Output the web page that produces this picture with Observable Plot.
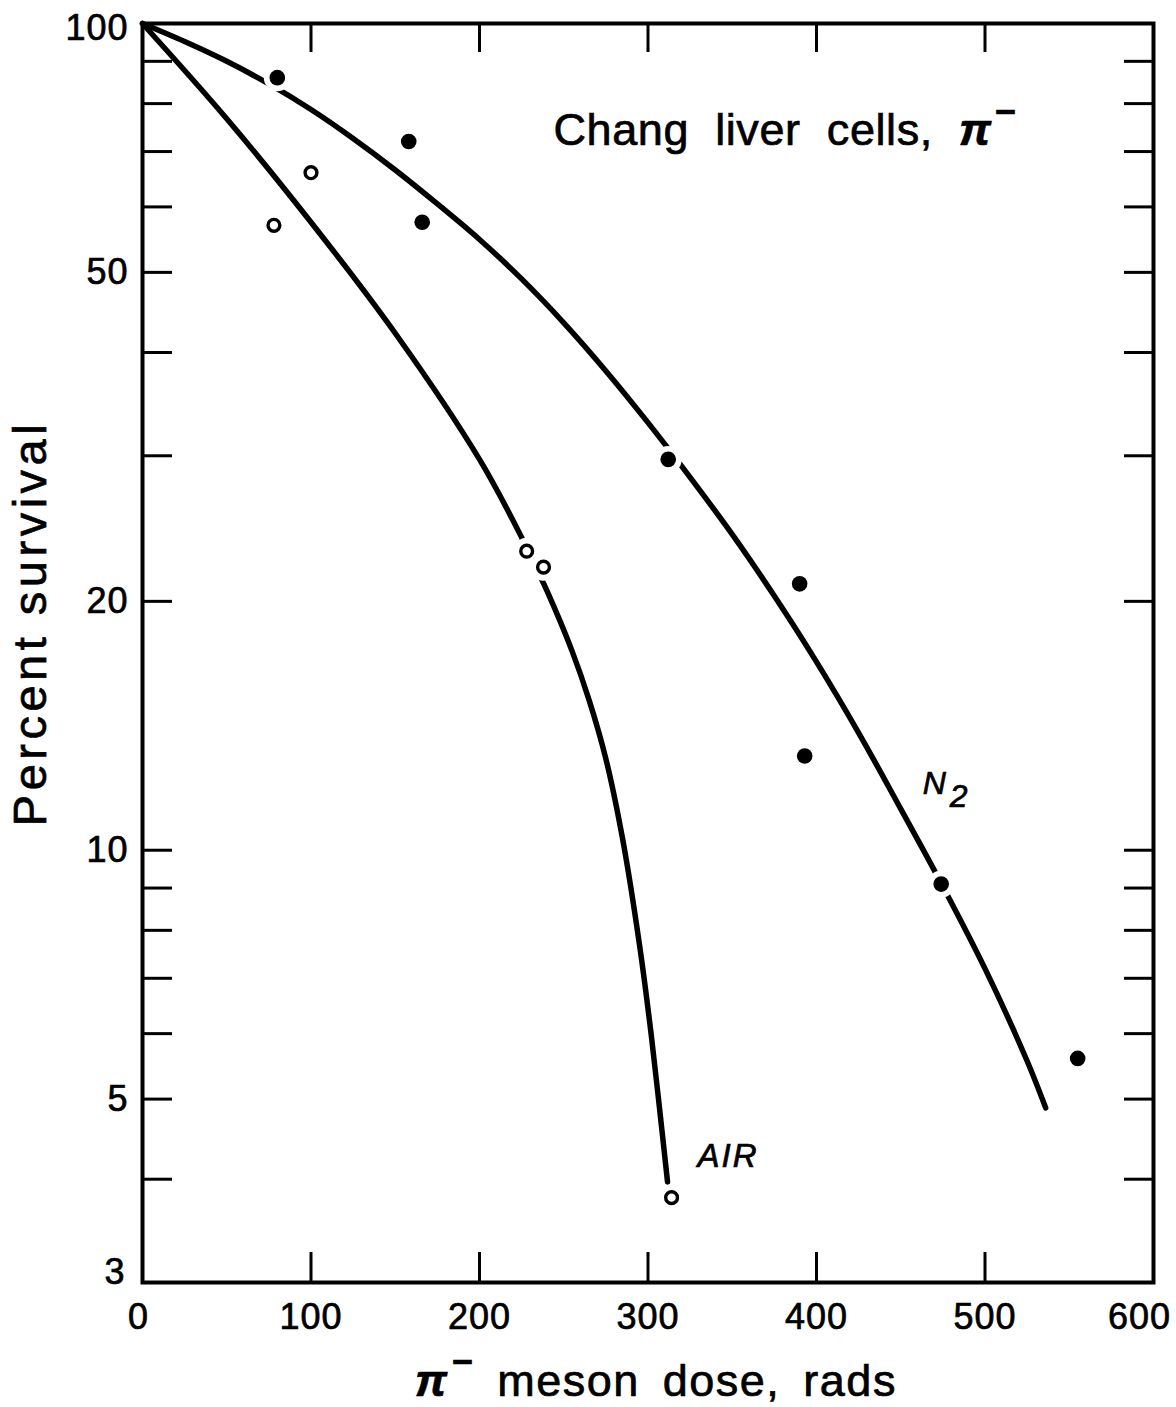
<!DOCTYPE html>
<html>
<head>
<meta charset="utf-8">
<script src="https://cdn.jsdelivr.net/npm/d3@7"></script>
<script src="https://cdn.jsdelivr.net/npm/@observablehq/plot@0.6"></script>
<style>
  html, body { margin: 0; padding: 0; background: #fff; }
  #chart svg { display: block; }
  #chart svg text { stroke: #000; stroke-width: 0.7px; paint-order: stroke; }
</style>
</head>
<body>
<div id="chart"></div>
<script>
// ---- data ----
const xTicks = [0, 100, 200, 300, 400, 500, 600];
const xMidLabels = [100, 200, 300, 400, 500];
const xFirstLabel = [0];
const xLastLabel = [600];
const yLabelTicks = [5, 10, 20, 50];
const yTopLabel = [100];
const yBottomLabel = [3];
const yMinorTicks = [4, 5, 6, 7, 8, 9, 10, 20, 30, 40, 50, 60, 70, 80, 90];

// N2 (filled circles)
const n2Dose = [80, 158, 166, 312, 390, 393, 474, 555];
const n2Survival = [86, 72, 57.5, 29.7, 21, 13, 9.1, 5.6];
// Air (open circles)
const airDose = [78, 100, 228, 238, 314];
const airSurvival = [57, 66, 23, 22, 3.8];

// curves as drawn in the figure
const n2CurveDose = [0, 25, 50, 75, 100, 125, 150, 175, 200, 225, 250, 275, 300, 325, 350, 375, 400, 425, 450, 475, 500, 525, 536];
const n2CurveSurvival = [100, 95.1, 90.0, 84.5, 78.7, 72.6, 66.5, 60.5, 54.8, 49.1, 43.45, 38.0, 32.9, 28.25, 24.1, 20.3, 16.9, 13.87, 11.22, 9.04, 7.19, 5.56, 4.88];
const airCurveDose = [0, 50, 100, 150, 200, 225, 240, 255, 265, 275, 285, 295, 302, 307, 311.6];
const airCurveSurvival = [100, 76.7, 57.5, 42.2, 29.7, 23.9, 20.6, 17.4, 15.2, 12.9, 10.3, 7.67, 5.96, 4.84, 3.97];

const titleText = "Chang liver cells, π⁻";
const xLabel = "π⁻ meson dose, rads";
const yLabel = "Percent survival";
const seriesLabels = [
  {label: "N2", dose: 463, survival: 11.68, size: 32},
  {label: "AIR", dose: 329.4, survival: 4.14, size: 33}
];
const titlePos = {dose: 243.9, survival: 71.2};

// ---- tables ----
const toRows = (xs, ys) => xs.map((x, i) => ({x, y: ys[i]}));
const n2Points = toRows(n2Dose, n2Survival);
const airPoints = toRows(airDose, airSurvival);
const n2Curve = toRows(n2CurveDose, n2CurveSurvival);
const airCurve = toRows(airCurveDose, airCurveSurvival);
const allPoints = n2Points.concat(airPoints);

// ---- layout ----
const W = 1176, H = 1407;
const mL = 142, mR = 23, mT = 23, mB = 125;
const pw = W - mL - mR, ph = H - mT - mB;
const font = "'Liberation Sans', Arial, Helvetica, sans-serif";
const fmt = d => String(d);
const tickFont = 36;
const axX = (ticks, dx) => Plot.axisX({ticks, tickSize: 0, tickPadding: 21, label: null, tickFormat: fmt, fontSize: tickFont, dx, className: "tick-label"});
const axY = (ticks, dy, pad) => Plot.axisY({ticks, tickSize: 0, tickPadding: pad, label: null, tickFormat: fmt, fontSize: tickFont, dy, className: "tick-label"});

const svg = Plot.plot({
  width: W, height: H,
  marginLeft: mL, marginRight: mR, marginTop: mT, marginBottom: mB,
  style: {fontFamily: font, fontSize: "33px", color: "#000", background: "#fff", overflow: "visible"},
  x: {domain: [0, 600]},
  y: {type: "log", domain: [3, 100]},
  marks: [
    // inward ticks
    Plot.tickX(xTicks.slice(1, -1), {x: d => d, insetTop: ph - 30, stroke: "#000", strokeWidth: 3}),
    Plot.tickX(xTicks.slice(1, -1), {x: d => d, insetBottom: ph - 29, stroke: "#000", strokeWidth: 3}),
    Plot.tickY(yMinorTicks, {y: d => d, insetRight: pw - 30, stroke: "#000", strokeWidth: 3}),
    Plot.tickY(yMinorTicks, {y: d => d, insetLeft: pw - 29, stroke: "#000", strokeWidth: 3}),
    // curves
    Plot.line(n2Curve, {x: "x", y: "y", curve: "catmull-rom", stroke: "#000", strokeWidth: 5.5, strokeLinecap: "round"}),
    Plot.line(airCurve, {x: "x", y: "y", curve: "catmull-rom", stroke: "#000", strokeWidth: 5.5, strokeLinecap: "round"}),
    // white halos so the curves break at the points
    Plot.dot(allPoints, {x: "x", y: "y", r: 13.5, fill: "#fff", stroke: "none"}),
    Plot.dot(n2Points, {x: "x", y: "y", r: 7.8, fill: "#000", stroke: "none"}),
    Plot.dot(airPoints, {x: "x", y: "y", r: 5.9, fill: "#fff", stroke: "#000", strokeWidth: 3.4}),
    Plot.frame({stroke: "#000", strokeWidth: 4}),
    // tick labels
    axX(xMidLabels, 0),
    axX(xFirstLabel, -4),
    axX(xLastLabel, -14),
    axY(yLabelTicks, 0, 14),
    axY(yTopLabel, 5, 14),
    axY(yBottomLabel, -10, 17),
    // texts
    Plot.text([titleText], {x: () => titlePos.dose, y: () => titlePos.survival, text: d => d,
      textAnchor: "start", lineAnchor: "bottom", fontSize: 45, className: "pi-text title-text"}),
    Plot.text([xLabel], {frameAnchor: "bottom", text: d => d, dy: 113, dx: 8, textAnchor: "middle",
      lineAnchor: "bottom", fontSize: 45, className: "pi-text xlabel-text"}),
    Plot.text([yLabel], {frameAnchor: "left", text: d => d, rotate: -90, dx: -112, dy: -30,
      textAnchor: "middle", lineAnchor: "middle", fontSize: 47, className: "ylabel-text"}),
    Plot.text(seriesLabels, {x: "dose", y: "survival", text: "label", textAnchor: "start",
      lineAnchor: "bottom", fontSize: d => d.size, fontStyle: "italic", className: "series-text"})
  ]
});

// ---- typographic touches (tspans) ----
const s = d3.select(svg);
s.selectAll(".tick-label text").style("letter-spacing", "1px");
s.selectAll(".pi-text text").each(function() {
  const el = d3.select(this);
  const t = el.text();
  const i = t.indexOf("π⁻");
  el.text(null);
  if (i > 0) el.append("tspan").text(t.slice(0, i));
  el.append("tspan").attr("font-weight", "bold").attr("font-style", "italic").text("π");
  el.append("tspan").attr("dx", "3").attr("dy", "-0.6em").attr("font-size", "0.8em").attr("font-weight", "bold").text("−");
  const rest = t.slice(i + 2);
  if (rest) el.append("tspan").attr("dy", "0.48em").text(rest);
});
s.selectAll(".title-text text").style("word-spacing", "13px").style("letter-spacing", "0.6px");
s.selectAll(".xlabel-text text").style("word-spacing", "9px").style("letter-spacing", "1.5px");
s.selectAll(".ylabel-text text").style("letter-spacing", "4.5px");
s.selectAll(".series-text text").each(function() {
  const el = d3.select(this);
  const t = el.text();
  if (t === "N2") {
    el.text(null);
    el.append("tspan").text("N");
    el.append("tspan").attr("dx", "4").attr("dy", "0.4em").text("2");
  } else {
    el.style("letter-spacing", "2px");
  }
});

document.getElementById("chart").appendChild(svg);
</script>
</body>
</html>
